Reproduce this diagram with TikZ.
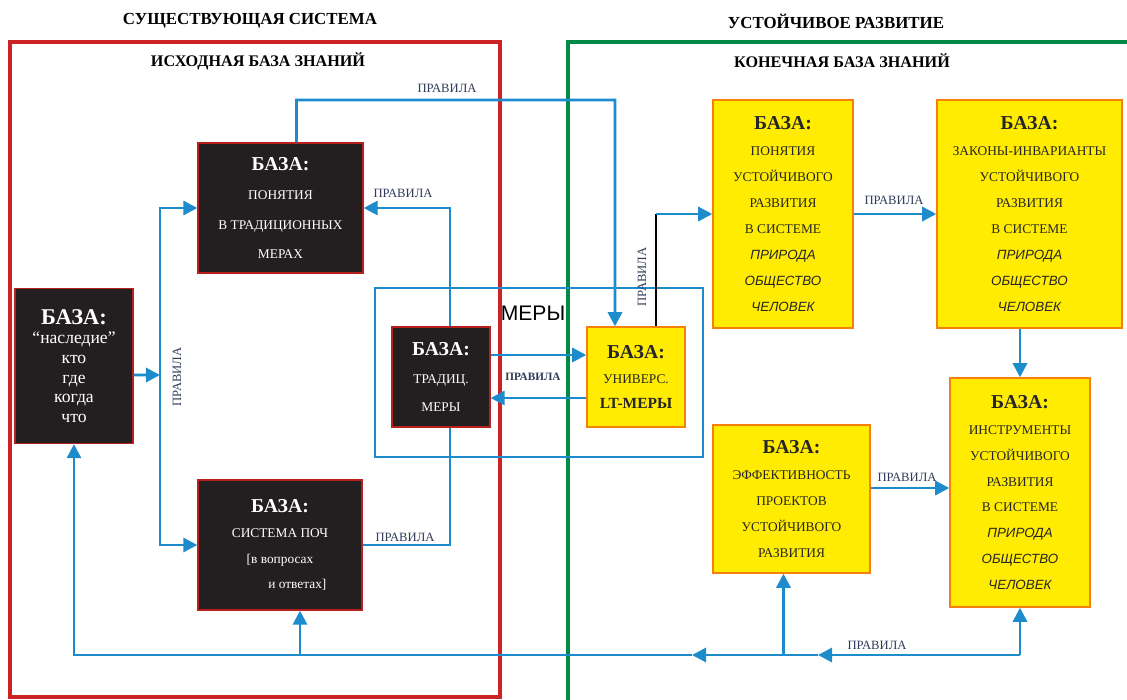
\documentclass[tikz,border=0pt]{standalone}
\usepackage{fontspec}
\setmainfont{Liberation Serif}
\setsansfont{Liberation Sans}
\usetikzlibrary{calc,positioning,shapes,arrows.meta}

\definecolor{flowblue}{RGB}{28,140,204}
\definecolor{framered}{RGB}{204,36,36}
\definecolor{framegreen}{RGB}{0,138,70}
\definecolor{boxblack}{RGB}{35,31,32}
\definecolor{boxyellow}{RGB}{255,236,0}
\definecolor{ruletext}{RGB}{48,58,88}

\newcommand{\baza}{{\bfseries\fontsize{14}{16}\selectfont БАЗА:}}
\newcommand{\sysword}[1]{{\sffamily\itshape #1}}

\tikzset{
  blackbox/.style={draw=framered!90!black, line width=0.9pt, fill=boxblack, text=white, align=center, inner sep=0pt},
  yellowbox/.style={draw=orange!85!brown, line width=1pt, fill=boxyellow, text=black!85, align=center, inner sep=0pt},
  boxsize/.style 2 args={minimum width=#1, minimum height=#2},
  flow/.style={draw=flowblue, line width=2.1pt, -{Triangle[length=10pt,width=10pt]}},
  measframe/.style={draw=flowblue, line width=1.3pt},
  rulelabel/.style={text=ruletext, font=\fontsize{9}{10}\selectfont},
  frametitle/.style={font=\bfseries\fontsize{12}{14}\selectfont},
  basetitle/.style={font=\bfseries\fontsize{11.5}{14}\selectfont}
}

\begin{document}
\begin{tikzpicture}[x=0.025cm,y=-0.025cm]
\useasboundingbox (0,0) rectangle (1127,699);
\draw[framered, line width=3.5pt] (10,42) rectangle (500,697);
\draw[framegreen, line width=3.5pt] (568,42) rectangle (1140,705);
\node[frametitle](oldsys) at (250,21) {СУЩЕСТВУЮЩАЯ СИСТЕМА};
\node[frametitle](newsys) at (836,21) {УСТОЙЧИВОЕ РАЗВИТИЕ};
\node[basetitle](oldbase) at (258,61) {ИСХОДНАЯ БАЗА ЗНАНИЙ};
\node[basetitle](newbase) at (842,61) {КОНЕЧНАЯ БАЗА ЗНАНИЙ};

\node[measframe, boxsize={8.2cm}{4.225cm}](meas) at (539,372.5) {};
\node[font=\sffamily\fontsize{15}{16}\selectfont](measname) at (533,313) {МЕРЫ};

\node[blackbox, boxsize={2.95cm}{3.875cm}, font=\fontsize{12.5}{14}\selectfont](nasl) at (74,366) {{\bfseries\fontsize{16}{18}\selectfont БАЗА:}\\``наследие''\\кто\\где\\когда\\что};
\node[blackbox, boxsize={4.125cm}{3.25cm}, font=\fontsize{9.5}{21}\selectfont](concepts) at (280.5,208) {\baza\\ПОНЯТИЯ\\В ТРАДИЦИОННЫХ\\МЕРАХ};
\node[blackbox, boxsize={4.1cm}{3.25cm}, font=\fontsize{9.5}{18}\selectfont](poch) at (280,545) {\baza\\СИСТЕМА ПОЧ\\{}[в вопросах\hspace*{2.2em}\\\hspace*{2.6em}и ответах]};
\node[yellowbox, boxsize={2.45cm}{2.5cm}, font=\fontsize{9.5}{18}\selectfont](univ) at (636,377) {\baza\\УНИВЕРС.\\{\bfseries\fontsize{11}{13}\selectfont LT-МЕРЫ}};
\node[yellowbox, boxsize={3.5cm}{5.7cm}, font=\fontsize{9.5}{18.4}\selectfont](srconc) at (783,214) {\baza\\ПОНЯТИЯ\\УСТОЙЧИВОГО\\РАЗВИТИЯ\\В СИСТЕМЕ\\\sysword{ПРИРОДА}\\\sysword{ОБЩЕСТВО}\\\sysword{ЧЕЛОВЕК}};
\node[yellowbox, boxsize={4.625cm}{5.7cm}, font=\fontsize{9.5}{18.4}\selectfont](laws) at (1029.5,214) {\baza\\ЗАКОНЫ-ИНВАРИАНТЫ\\УСТОЙЧИВОГО\\РАЗВИТИЯ\\В СИСТЕМЕ\\\sysword{ПРИРОДА}\\\sysword{ОБЩЕСТВО}\\\sysword{ЧЕЛОВЕК}};
\node[yellowbox, boxsize={3.925cm}{3.7cm}, font=\fontsize{9.5}{18.4}\selectfont](effic) at (791.5,499) {\baza\\ЭФФЕКТИВНОСТЬ\\ПРОЕКТОВ\\УСТОЙЧИВОГО\\РАЗВИТИЯ};
\node[yellowbox, boxsize={3.5cm}{5.725cm}, font=\fontsize{9.5}{18.4}\selectfont](instr) at (1020,492.5) {\baza\\ИНСТРУМЕНТЫ\\УСТОЙЧИВОГО\\РАЗВИТИЯ\\В СИСТЕМЕ\\\sysword{ПРИРОДА}\\\sysword{ОБЩЕСТВО}\\\sysword{ЧЕЛОВЕК}};

\coordinate (splitL) at (160,375);
\coordinate (loopX) at (450,0);
\coordinate (topbend) at (615,100);
\coordinate (conOut) at ([xshift=.4cm]concepts.north);
\coordinate (univIn) at ([xshift=-.525cm]univ.north);
\coordinate (univOut) at ([xshift=.5cm]univ.north);
\coordinate (effOut) at ([yshift=.275cm]effic.east);
\coordinate (effIn) at ([xshift=-.2cm]effic.south);
\coordinate (pochIn) at ([xshift=.5cm]poch.south);
\coordinate (railR) at (1020,655);
\coordinate (tipA) at (818,655);
\coordinate (tipB) at (692,655);

\draw[flow] ([yshift=-.225cm]nasl.east) -- (splitL);
\draw[flow] (splitL) |- (concepts.west);
\draw[flow] (splitL) |- (poch.west);
\draw[flow] (conOut) |- (topbend) -- (univIn);
\draw[flow] (poch.east) -| (loopX |- concepts.east) -- (concepts.east);
\node[blackbox, boxsize={2.45cm}{2.5cm}, font=\fontsize{9.5}{20}\selectfont](trad) at (441,377) {\baza\\ТРАДИЦ.\\МЕРЫ};
\draw[flow] ([yshift=.55cm]trad.east) -- ([yshift=.55cm]univ.west);
\draw[flow] ([yshift=-.525cm]univ.west) -- ([yshift=-.525cm]trad.east);
\draw[flow] (srconc.east) -- (laws.west);
\draw[flow] (laws.south -| instr.north) -- (instr.north);
\draw[flow] (effOut) -- (effOut -| instr.west);
\draw[black, line width=1.3pt] (univOut) -- (univOut |- srconc.west);
\draw[flow] (univOut |- srconc.west) -- (srconc.west);
\draw[flow] (railR) -- (instr.south);
\draw[flow] (railR) -- (tipA);
\draw[flow] (tipA) -- (tipB);
\draw[flow] (tipB) -| (nasl.south);
\draw[flow] (effIn |- railR) -- (effIn);
\draw[flow] (pochIn |- railR) -- (pochIn);

\node[rulelabel](ruleA) at (447,88) {ПРАВИЛА};
\node[rulelabel](ruleB) at (403,193) {ПРАВИЛА};
\node[rulelabel](ruleC) at (405,537) {ПРАВИЛА};
\node[rulelabel, rotate=90](ruleD) at (177,377) {ПРАВИЛА};
\node[rulelabel, font=\bfseries\fontsize{8}{9}\selectfont](ruleE) at (533,377) {ПРАВИЛА};
\node[rulelabel, rotate=90](ruleF) at (642,277) {ПРАВИЛА};
\node[rulelabel](ruleG) at (894,200) {ПРАВИЛА};
\node[rulelabel](ruleH) at (907,477) {ПРАВИЛА};
\node[rulelabel](ruleI) at (877,645) {ПРАВИЛА};
\end{tikzpicture}
\end{document}
